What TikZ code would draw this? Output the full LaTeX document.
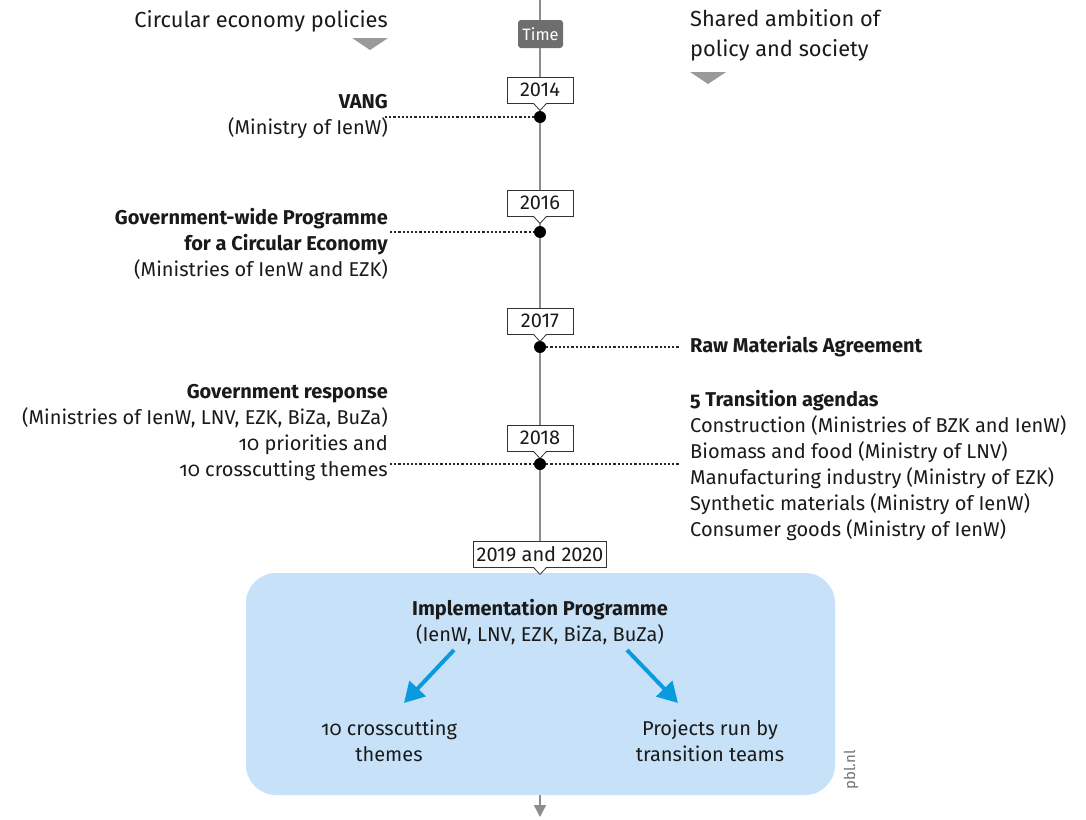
\documentclass[tikz,border=0pt]{standalone}
\usepackage{fontspec}
\setmainfont{Fira Sans}[Numbers=OldStyle]
\newfontfamily\liningfont{Fira Sans}[Numbers=Lining]
\usetikzlibrary{arrows.meta}
\definecolor{axisgray}{HTML}{8C8C8C}
\definecolor{timegray}{HTML}{6E6E6E}
\definecolor{trigray}{HTML}{9A9A9A}
\definecolor{boxblue}{HTML}{C7E2F8}
\definecolor{arrowblue}{HTML}{0A9BDE}
\definecolor{txt}{HTML}{1A1A1A}
\tikzset{
  base/.style={inner sep=0pt, text=txt, font=\fontsize{20}{26}\selectfont},
  lbl/.style={base, align=right, anchor=east},
  rlbl/.style={base, align=left, anchor=west},
  ctr/.style={base, align=center},
  yearbox/.style={draw=black!80, fill=white, line width=0.8pt, minimum height=26pt, minimum width=66pt, inner xsep=3pt, inner ysep=0pt, text=txt, font=\liningfont\fontsize{20}{22}\selectfont},
  dotline/.style={line width=1.2pt, dash pattern=on 2.2pt off 2pt, black!85},
  tdot/.style={circle, fill=black, inner sep=0pt, minimum size=12pt},
  axisline/.style={axisgray, line width=1.5pt},
  bluearrow/.style={arrowblue, line width=4pt, -{Triangle[length=20pt,width=22pt]}},
  hdrtri/.style={fill=trigray},
}
\newcommand{\notch}[1]{%
  \fill[white] ([xshift=-6.5pt,yshift=0.6pt]#1.south) -- ([yshift=-7pt]#1.south) -- ([xshift=6.5pt,yshift=0.6pt]#1.south) -- cycle;
  \draw[black!80, line width=0.8pt] ([xshift=-6.5pt]#1.south) -- ([yshift=-7pt]#1.south) -- ([xshift=6.5pt]#1.south);}
\begin{document}
\begin{tikzpicture}[x=1pt,y=-1pt]
\useasboundingbox (0,0) rectangle (1086,819);
\fill[white] (0,0) rectangle (1086,819);

% axis
\coordinate (axtop) at (540,0);
\coordinate (axbot) at (540,817);
\draw[axisline, -{Triangle[length=12pt,width=12pt]}] (axtop) -- (axbot);

% headers
\node[lbl, font=\fontsize{21.8}{29}\selectfont] (hl) at (388,21) {Circular economy policies};
\fill[hdrtri] (352,38) -- (388,38) -- (370,50) -- cycle;
\node[rlbl, font=\fontsize{21.8}{30}\selectfont] (hr) at (690,35) {Shared ambition of\\policy and society};
\fill[hdrtri] (690,72) -- (726,72) -- (708,84) -- cycle;

% time
\node[fill=timegray, rounded corners=3pt, minimum width=45pt, minimum height=28pt, inner sep=0pt, text=white, font=\fontsize{16.5}{18}\selectfont] (time) at (540.5,34) {Time};

% blue box
\node[fill=boxblue, rounded corners=30pt, minimum width=589pt, minimum height=222pt, inner sep=0pt] (impl) at (540.5,684) {};

% years
\node[yearbox] (y14) at (540,90) {2014};
\node[yearbox] (y16) at (540,203) {2016};
\node[yearbox] (y17) at (540,321) {2017};
\node[yearbox] (y18) at (540,438) {2018};
\node[yearbox] (y19) at (540,554) {2019 and 2020};
\notch{y14}\notch{y16}\notch{y17}\notch{y18}\notch{y19}

% dots
\node[tdot] (d14) at (540,117) {};
\node[tdot] (d16) at (540,232) {};
\node[tdot] (d17) at (540,347) {};
\node[tdot] (d18) at (540,464) {};

% left labels
\node[lbl] (vang) at (388,117) {\textbf{VANG}\\(Ministry of IenW)};
\node[lbl] (gwp) at (388,244) {\textbf{Government-wide Programme}\\\textbf{for a Circular Economy}\\(Ministries of IenW and EZK)};
\node[lbl] (gr) at (388,433) {\textbf{Government response}\\(Ministries of IenW, LNV, EZK, BiZa, BuZa)\\10 priorities and\\10 crosscutting themes};

% right labels
\node[rlbl] (rma) at (690,347) {\textbf{Raw Materials Agreement}};
\node[rlbl] (ta) at (690,466) {\textbf{5 Transition agendas}\\Construction (Ministries of BZK and IenW)\\Biomass and food (Ministry of LNV)\\Manufacturing industry (Ministry of EZK)\\Synthetic materials (Ministry of IenW)\\Consumer goods (Ministry of IenW)};

% dotted connectors
\coordinate (c14) at (385,117);
\coordinate (c16) at (390,232);
\coordinate (c17) at (680,347);
\coordinate (c18l) at (390,464);
\coordinate (c18r) at (680,464);
\draw[dotline] (c14) -- (d14);
\draw[dotline] (c16) -- (d16);
\draw[dotline] (d17) -- (c17);
\draw[dotline] (c18l) -- (d18) -- (c18r);

% implementation content
\node[ctr] (ip) at (540,622) {\textbf{Implementation Programme}\\(IenW, LNV, EZK, BiZa, BuZa)};
\node[ctr] (ct) at (389,741) {10 crosscutting\\themes};
\node[ctr] (pr) at (710,741) {Projects run by\\transition teams};
\coordinate (a1s) at (454,650);
\coordinate (a1e) at (404,703);
\coordinate (a2s) at (627,650);
\coordinate (a2e) at (678,703);
\draw[bluearrow] (a1s) -- (a1e);
\draw[bluearrow] (a2s) -- (a2e);

\node[base, rotate=90, text=black!55, font=\fontsize{15}{16}\selectfont] (pbl) at (851,770) {pbl.nl};
\end{tikzpicture}
\end{document}
